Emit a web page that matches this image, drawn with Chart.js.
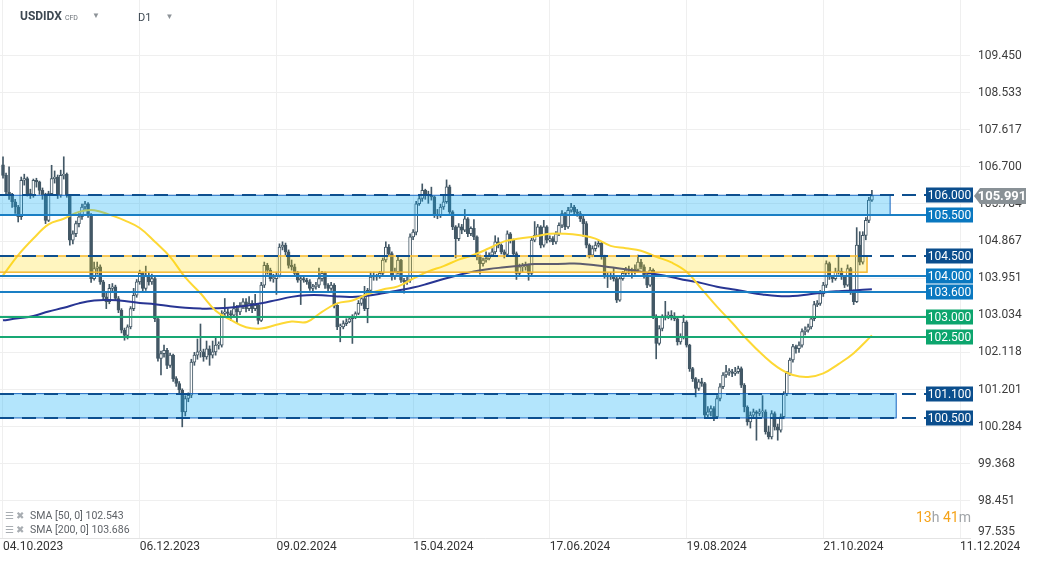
<!DOCTYPE html>
<html>
<head>
<meta charset="utf-8">
<title>USDIDX D1</title>
<script src="https://cdn.jsdelivr.net/npm/chart.js@4.4.1/dist/chart.umd.min.js"></script>
<style>
    html, body { margin: 0; padding: 0; background: #ffffff; }
    #wrap { position: relative; width: 1042px; height: 563px; overflow: hidden; font-family: Roboto, 'Noto Sans', sans-serif; }
    #chart { position: absolute; left: 0; top: 0; }
    .hdr { position: absolute; top: 9px; color: #3d4852; white-space: nowrap; }
    .sym { left: 20px; font-size: 12px; font-weight: bold; }
    .sym .cfd { font-size: 7px; font-weight: normal; color: #6b7278; margin-left: 3px; }
    .tf { left: 138px; font-size: 11px; top: 11px; }
    .tri { color: #8d9398; font-size: 8px; margin-left: 14px; vertical-align: 2px; }
    .legend { position: absolute; left: 5px; font-size: 10.5px; color: #5f6368; white-space: nowrap; }
    .legend .ico { color: #a8adb2; font-size: 10px; margin-right: 4px; letter-spacing: 2px; }
    .timer { position: absolute; left: 916px; top: 509px; font-size: 14px; color: #a0a4a8; }
    .timer b { color: #f5a31a; font-weight: normal; }
</style>
</head>
<body>
<div id="wrap">
    <canvas id="chart" width="1042" height="563"></canvas>
    <div class="hdr sym">USDIDX<span class="cfd">CFD</span><span class="tri">&#9660;</span></div>
    <div class="hdr tf">D1<span class="tri">&#9660;</span></div>
    <div class="legend" style="top:509px"><span class="ico">&#9776;&#10006;</span>SMA [50, 0] 102.543</div>
    <div class="legend" style="top:523px"><span class="ico">&#9776;&#10006;</span>SMA [200, 0] 103.686</div>
    <div class="timer"><b>13</b>h <b>41</b>m</div>
</div>
<script>
/* ==========================================================================
   Data - daily candles (open = previous close)
   ========================================================================== */

const firstOpen = 106.75;

const closes = [
    106.49,106.08,106.00,105.84,105.71,105.47,106.37,106.41,106.04,106.00,
    106.37,106.33,106.12,106.00,105.38,106.04,106.41,106.45,106.00,106.49,
    106.52,106.00,104.89,105.05,105.30,105.47,105.71,105.79,105.51,103.94,
    104.19,104.23,103.86,103.49,103.37,103.70,103.74,103.45,103.16,102.67,
    102.54,102.75,103.20,103.53,103.86,104.07,103.70,104.02,103.86,103.94,
    102.95,101.97,102.09,102.17,101.80,102.05,101.47,101.35,101.19,100.65,
    100.98,101.06,101.88,102.05,102.13,102.13,102.01,102.21,102.05,102.13,
    102.30,102.30,103.08,103.12,103.08,103.04,103.20,103.12,103.28,103.37,
    103.20,103.33,103.20,103.28,102.91,103.78,104.27,104.15,103.94,103.94,
    104.02,104.72,104.77,104.60,104.27,104.23,104.07,103.90,103.94,103.90,
    103.86,103.70,103.74,103.78,103.94,104.07,103.78,103.70,103.78,103.28,
    102.75,102.75,102.83,102.87,102.95,103.00,103.08,103.33,103.45,103.20,
    103.65,103.98,103.98,103.98,104.07,104.40,104.72,104.56,103.98,104.11,
    104.40,103.90,103.86,103.90,104.97,105.09,105.79,105.92,106.12,106.00,
    106.00,105.96,105.51,105.49,105.71,105.84,106.21,105.59,105.22,104.93,
    105.22,105.14,105.42,105.05,105.18,104.97,104.48,104.31,104.40,104.44,
    104.52,104.60,104.85,104.77,104.60,104.54,105.05,104.89,104.56,104.07,
    104.23,104.23,104.27,104.07,104.89,105.01,105.22,104.77,105.22,104.89,
    104.93,104.85,105.05,105.26,105.55,105.22,105.63,105.71,105.59,105.55,
    105.42,105.30,104.77,104.52,104.68,104.77,104.81,104.48,104.02,103.98,
    104.02,103.94,103.41,103.94,104.07,104.15,104.15,104.12,104.17,104.35,
    104.23,104.02,103.78,104.15,103.00,102.34,102.71,103.00,103.00,103.04,
    103.00,102.95,102.38,102.50,102.87,102.30,101.72,101.47,101.23,101.39,
    101.35,100.57,100.65,100.73,100.53,100.98,101.27,101.56,101.64,101.64,
    101.60,101.64,101.72,101.31,100.77,100.40,100.57,100.65,100.61,100.65,
    100.65,100.16,100.03,100.61,100.28,100.20,100.53,101.10,101.60,101.93,
    102.26,102.21,102.30,102.63,102.67,102.75,102.95,103.30,103.33,103.57,
    103.78,104.31,103.98,103.94,104.11,104.12,103.98,103.78,104.19,103.61,
    103.37,104.77,104.35,105.01,105.38,105.88,105.99
];

const highs = [
    106.95,106.55,106.70,106.05,105.90,105.75,106.45,106.52,106.45,106.15,
    106.40,106.42,106.35,106.18,106.05,106.10,106.74,106.60,106.50,106.62,
    106.95,106.55,106.02,105.12,105.36,105.55,105.78,105.85,105.82,105.55,
    104.35,104.35,104.28,103.90,103.58,103.80,103.82,103.78,103.50,103.20,
    102.72,102.80,103.25,103.70,103.92,104.15,104.10,104.25,104.10,104.05,
    103.98,103.00,102.15,102.30,102.22,102.10,102.08,101.52,101.40,101.22,
    101.05,101.12,101.95,102.12,102.45,102.82,102.20,102.40,102.28,102.40,
    102.48,102.38,103.15,103.45,103.20,103.15,103.35,103.28,103.35,103.45,
    103.45,103.50,103.40,103.55,103.32,103.85,104.35,104.32,104.20,104.05,
    104.10,104.80,104.85,104.82,104.65,104.40,104.30,104.12,104.00,104.02,
    103.95,103.92,103.80,103.85,104.20,104.12,104.10,103.82,103.85,103.82,
    103.30,102.82,102.90,102.95,103.00,103.05,103.12,103.40,103.50,103.75,
    103.70,104.10,104.10,104.05,104.12,104.45,104.85,104.78,104.60,104.20,
    104.48,104.42,103.95,103.98,105.05,105.15,105.85,106.02,106.28,106.15,
    106.10,106.20,105.98,105.65,105.78,106.00,106.38,106.25,105.62,105.25,
    105.30,105.28,105.65,105.45,105.22,105.40,105.00,104.52,104.45,104.60,
    104.58,104.68,105.00,104.95,104.80,104.65,105.12,105.08,104.92,104.60,
    104.30,104.32,104.35,104.30,104.95,105.35,105.28,105.25,105.38,105.25,
    105.00,104.98,105.10,105.32,105.62,105.58,105.70,105.80,105.75,105.65,
    105.60,105.48,105.35,104.80,104.75,104.85,104.88,104.85,104.52,104.08,
    104.08,104.20,103.98,104.00,104.12,104.22,104.25,104.20,104.28,104.52,
    104.42,104.28,104.05,104.22,104.18,103.05,102.78,103.05,103.38,103.12,
    103.15,103.10,102.98,102.58,103.04,102.90,102.32,101.75,101.50,101.45,
    101.48,101.38,100.78,100.80,100.78,101.05,101.35,101.62,101.80,101.72,
    101.70,101.75,101.78,101.76,101.35,100.80,100.65,100.72,100.68,100.72,
    101.05,100.70,100.30,100.68,100.65,100.35,100.60,101.15,101.65,101.98,
    102.32,102.30,102.38,102.70,102.75,102.82,103.00,103.38,103.40,103.65,
    103.85,104.38,104.35,104.02,104.20,104.52,104.20,104.02,104.28,104.22,
    103.66,105.20,105.10,105.10,105.45,105.95,106.12
];

const lows = [
    106.42,106.00,105.90,105.70,105.55,105.34,105.40,106.25,105.98,105.92,
    105.95,106.20,106.02,105.90,105.30,105.35,106.00,106.30,105.92,105.95,
    106.40,105.95,104.77,104.80,104.98,105.22,105.40,105.65,105.45,103.85,
    103.90,104.05,103.80,103.42,103.20,103.32,103.62,103.40,103.10,102.60,
    102.42,102.45,102.70,103.15,103.48,103.80,103.62,103.65,103.78,103.80,
    102.88,101.90,101.56,102.00,101.72,101.75,101.40,101.28,101.10,100.28,
    100.55,100.90,101.00,101.80,101.95,102.00,101.90,101.95,101.80,101.98,
    102.05,102.20,102.25,103.00,102.98,102.90,103.00,102.85,103.05,103.20,
    103.12,103.15,103.10,103.15,102.82,102.88,103.72,104.05,103.88,103.85,
    103.55,103.98,104.65,104.52,104.20,104.15,104.00,103.85,103.30,103.85,
    103.80,103.65,103.62,103.68,103.72,103.88,103.70,103.62,103.65,103.22,
    102.68,102.38,102.70,102.78,102.85,102.34,102.95,103.05,103.28,103.15,
    102.85,103.60,103.90,103.90,103.95,104.00,104.35,104.50,103.90,103.92,
    104.05,103.85,103.58,103.80,103.85,104.90,105.02,105.75,105.85,105.90,
    105.80,105.88,105.45,105.42,105.45,105.65,105.80,105.55,105.15,104.45,
    104.88,105.05,105.10,104.98,105.00,104.90,104.40,104.05,104.25,104.35,
    104.40,104.48,104.55,104.70,104.55,104.45,104.50,104.82,104.50,103.92,
    104.00,104.10,104.15,103.90,104.02,104.85,104.98,104.70,104.72,104.82,
    104.85,104.78,104.80,105.00,105.20,105.15,105.18,105.58,105.52,105.48,
    105.35,104.98,104.70,104.45,104.48,104.62,104.72,104.42,103.95,103.72,
    103.92,103.88,103.35,103.38,103.90,104.02,104.05,103.95,104.05,104.10,
    104.18,103.95,103.72,103.75,102.95,101.96,102.30,102.65,102.92,102.95,
    102.92,102.90,102.30,102.32,102.45,102.25,101.65,101.40,101.02,101.18,
    101.28,100.50,100.50,100.55,100.43,100.48,100.92,101.22,101.50,101.55,
    101.52,101.55,101.60,101.25,100.65,100.32,100.25,100.50,99.95,100.55,
    100.52,100.10,99.98,99.98,100.20,99.95,100.15,100.48,101.05,101.55,
    101.88,102.10,102.12,102.25,102.55,102.62,102.70,102.90,103.25,103.28,
    103.50,103.72,103.92,103.85,103.90,104.05,103.92,103.72,103.75,103.55,
    103.30,103.35,104.28,104.30,104.90,105.32,105.85
];

// Moving averages, read every 5th candle
const smaIdx = [
    0,5,10,15,20,25,30,35,40,45,50,55,60,65,70,75,80,85,90,95,
    100,105,110,115,120,125,130,135,140,145,150,155,160,165,170,175,180,185,190,195,
    200,205,210,215,220,225,230,235,240,245,250,255,260,265,270,275,280,286
];
const sma50 = [
    104.02,104.52,104.93,105.28,105.42,105.59,105.63,105.52,105.38,105.19,
    104.85,104.48,103.97,103.58,103.15,102.92,102.74,102.71,102.80,102.88,
    102.87,103.12,103.33,103.40,103.56,103.67,103.75,103.94,104.12,104.25,
    104.41,104.53,104.69,104.86,104.93,104.98,105.05,105.05,105.01,104.93,
    104.75,104.69,104.63,104.48,104.34,104.11,103.68,103.25,102.85,102.43,
    102.06,101.75,101.56,101.51,101.60,101.83,102.10,102.54
];
const sma200 = [
    102.91,102.96,103.02,103.13,103.22,103.33,103.40,103.41,103.39,103.34,
    103.31,103.26,103.22,103.20,103.21,103.23,103.27,103.33,103.41,103.49,
    103.53,103.53,103.50,103.49,103.52,103.58,103.65,103.72,103.82,103.93,
    104.03,104.12,104.18,104.22,104.26,104.30,104.30,104.31,104.31,104.27,
    104.22,104.17,104.11,104.05,103.98,103.90,103.83,103.74,103.68,103.61,
    103.55,103.51,103.51,103.55,103.60,103.63,103.65,103.68
];

// Axis ticks
const dateTicks = [0, 45, 90, 135, 180, 225, 270, 315];
const dateLabels = ['04.10.2023', '06.12.2023', '09.02.2024', '15.04.2024',
                    '17.06.2024', '19.08.2024', '21.10.2024', '11.12.2024'];
const priceTicks = [109.450, 108.533, 107.617, 106.700, 105.784, 104.867, 103.951,
                    103.034, 102.118, 101.201, 100.284, 99.368, 98.451, 97.535];

// Horizontal levels and zones
const levelValues = [106.0, 105.5, 104.5, 104.0, 103.6, 103.0, 102.5, 101.1, 100.5];
const zoneLow  = [105.5, 104.1, 100.5];
const zoneHigh = [106.0, 104.5, 101.1];
const zoneEnd  = [292.0, 284.4, 294.0];   // candle index where the box stops
const lastPrice = 105.991;

/* ==========================================================================
   Styles
   ========================================================================== */

const CANDLE = '#435866';
const GRID = '#efefef';
const LEVEL_DASH = { color: '#0d4f8f', tag: '#0b4e8d', dash: [14, 8] };
const LEVEL_BLUE = { color: '#1a7fc4', tag: '#0a78c0', dash: [] };
const LEVEL_GREEN = { color: '#18a874', tag: '#0ca56d', dash: [] };
const levelLook = [LEVEL_DASH, LEVEL_BLUE, LEVEL_DASH, LEVEL_BLUE, LEVEL_BLUE,
                   LEVEL_GREEN, LEVEL_GREEN, LEVEL_DASH, LEVEL_DASH];
const zoneLook = [
    { fill: 'rgba(3, 169, 244, 0.30)', stroke: '#1565c0', width: 1 },
    { fill: 'rgba(255, 214, 0, 0.25)', stroke: '#f5b82e', width: 1.5 },
    { fill: 'rgba(3, 169, 244, 0.30)', stroke: '#1565c0', width: 1 }
];

/* ==========================================================================
   Build datasets
   ========================================================================== */

const opens = closes.map((c, i) => (i === 0 ? firstOpen : closes[i - 1]));
const bodies = closes.map((c, i) => ({ x: i, y: [opens[i], c] }));
const wicks = closes.map((c, i) => ({ x: i, y: [lows[i], highs[i]] }));
const bodyFill = closes.map((c, i) => (c >= opens[i] ? '#ffffff' : CANDLE));
const sma50Pts = smaIdx.map((x, k) => ({ x, y: sma50[k] }));
const sma200Pts = smaIdx.map((x, k) => ({ x, y: sma200[k] }));

/* ==========================================================================
   Level lines, zones and price tags
   ========================================================================== */

function drawTag(ctx, x, y, w, h, bg, text, bold) {
    ctx.fillStyle = bg;
    ctx.fillRect(x, y - h / 2, w, h);
    ctx.fillStyle = '#ffffff';
    ctx.font = (bold ? 'bold ' : '') + '12px Roboto, sans-serif';
    ctx.textAlign = 'center';
    ctx.textBaseline = 'middle';
    ctx.fillText(text, x + w / 2, y + 0.5);
}

// Keep the plot area fixed: no automatic label padding
function noPadding(scale) {
    scale.paddingLeft = 0;
    scale.paddingRight = 0;
    scale.paddingTop = 0;
    scale.paddingBottom = 0;
}

const levelsPlugin = {
    id: 'levels',
    afterDatasetsDraw(chart) {
        const { ctx, chartArea } = chart;
        const xs = chart.scales.x;
        const ys = chart.scales.y;
        const tagLeft = chartArea.right - 44;

        ctx.save();

        // zones
        zoneLow.forEach((lo, k) => {
            const x0 = chartArea.left;
            const x1 = xs.getPixelForValue(zoneEnd[k]);
            const y0 = ys.getPixelForValue(zoneHigh[k]);
            const y1 = ys.getPixelForValue(lo);
            ctx.fillStyle = zoneLook[k].fill;
            ctx.fillRect(x0, y0, x1 - x0, y1 - y0);
            ctx.strokeStyle = zoneLook[k].stroke;
            ctx.lineWidth = zoneLook[k].width;
            ctx.strokeRect(x0 - 2, y0, x1 - x0 + 2, y1 - y0);
        });

        // level lines
        levelValues.forEach((v, k) => {
            const y = Math.round(ys.getPixelForValue(v));
            const look = levelLook[k];
            ctx.strokeStyle = look.color;
            ctx.lineWidth = 2;
            ctx.setLineDash(look.dash);
            ctx.beginPath();
            ctx.moveTo(chartArea.left, y);
            ctx.lineTo(tagLeft, y);
            ctx.stroke();
        });
        ctx.setLineDash([]);

        // level tags
        levelValues.forEach((v, k) => {
            const y = Math.round(ys.getPixelForValue(v));
            drawTag(ctx, tagLeft, y, 47, 15, levelLook[k].tag, v.toFixed(3), false);
        });

        ctx.restore();
    },
    afterDraw(chart) {
        const { ctx, chartArea } = chart;
        const ys = chart.scales.y;
        ctx.save();

        // bottom price label, lifted clear of the date row
        const yb = ys.getPixelForValue(priceTicks[priceTicks.length - 1]) - 6;
        ctx.fillStyle = '#3c3c3c';
        ctx.font = '12px Roboto, sans-serif';
        ctx.textAlign = 'left';
        ctx.textBaseline = 'middle';
        ctx.fillText(priceTicks[priceTicks.length - 1].toFixed(3), chartArea.right + 8, yb);

        // current price tag with arrow
        const y = Math.round(ys.getPixelForValue(lastPrice));
        const xTip = chartArea.right + 4;
        const x0 = chartArea.right + 10;
        const x1 = chartArea.right + 56;
        ctx.fillStyle = '#899196';
        ctx.beginPath();
        ctx.moveTo(xTip, y);
        ctx.lineTo(x0, y - 8);
        ctx.lineTo(x1, y - 8);
        ctx.lineTo(x1, y + 8);
        ctx.lineTo(x0, y + 8);
        ctx.closePath();
        ctx.fill();
        ctx.fillStyle = '#ffffff';
        ctx.font = 'bold 13px Roboto, sans-serif';
        ctx.textAlign = 'center';
        ctx.fillText(lastPrice.toFixed(3), (x0 + x1) / 2 - 1, y + 0.5);

        ctx.restore();
    }
};

/* ==========================================================================
   Chart
   ========================================================================== */

Chart.defaults.font.family = "Roboto, 'Noto Sans', sans-serif";
Chart.defaults.color = '#3c3c3c';

const ctx = document.getElementById('chart').getContext('2d');

new Chart(ctx, {
    type: 'bar',
    data: {
        datasets: [
            {
                type: 'line',
                label: 'SMA 50',
                data: sma50Pts,
                borderColor: '#fdd835',
                borderWidth: 2,
                pointRadius: 0,
                tension: 0.4,
                order: 1
            },
            {
                type: 'line',
                label: 'SMA 200',
                data: sma200Pts,
                borderColor: '#283593',
                borderWidth: 2,
                pointRadius: 0,
                tension: 0.4,
                order: 1
            },
            {
                label: 'Bodies',
                data: bodies,
                backgroundColor: bodyFill,
                borderColor: CANDLE,
                borderWidth: 1,
                borderSkipped: false,
                barThickness: 3,
                minBarLength: 1,
                grouped: false,
                order: 2
            },
            {
                label: 'Wicks',
                data: wicks,
                backgroundColor: CANDLE,
                borderWidth: 0,
                barThickness: 1,
                grouped: false,
                order: 3
            }
        ]
    },
    options: {
        responsive: false,
        animation: false,
        events: [],
        layout: { padding: 0 },
        plugins: {
            legend: { display: false },
            tooltip: { enabled: false }
        },
        scales: {
            x: {
                type: 'linear',
                offset: false,
                min: -0.987,
                max: 318.29,
                afterBuildTicks(scale) {
                    scale.ticks = dateTicks.map(v => ({ value: v }));
                },
                afterFit(scale) {
                    scale.height = 25;
                    noPadding(scale);
                },
                ticks: {
                    autoSkip: false,
                    maxRotation: 0,
                    align: 'start',
                    padding: 2,
                    color: '#333333',
                    font: { size: 12 },
                    callback: (value, index) => dateLabels[index]
                },
                grid: { color: GRID, drawTicks: false, offset: false },
                border: { display: true, color: '#e4e4e4' }
            },
            y: {
                position: 'right',
                min: 97.535,
                max: 110.822,
                afterBuildTicks(scale) {
                    scale.ticks = priceTicks.map(v => ({ value: v }));
                },
                afterFit(scale) {
                    scale.width = 72;
                    noPadding(scale);
                },
                ticks: {
                    autoSkip: false,
                    padding: 8,
                    color: '#3c3c3c',
                    font: { size: 12 },
                    callback: (value, index) =>
                        index === priceTicks.length - 1 ? '' : value.toFixed(3)
                },
                grid: { color: GRID, drawTicks: false },
                border: { display: false }
            }
        }
    },
    plugins: [levelsPlugin]
});
</script>
</body>
</html>
